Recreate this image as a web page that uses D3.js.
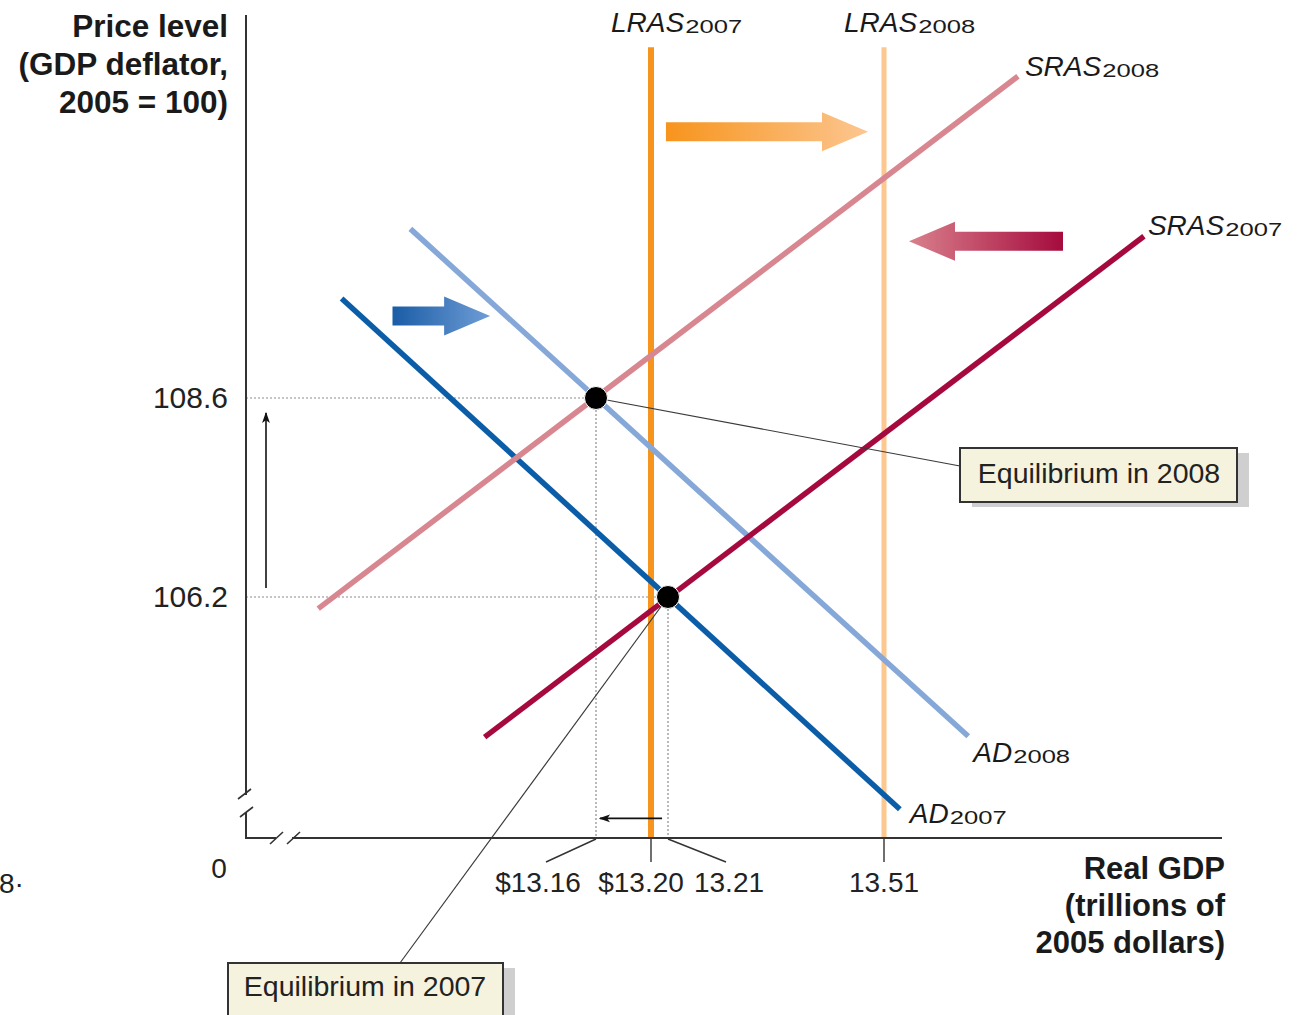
<!DOCTYPE html>
<html><head><meta charset="utf-8">
<script src="https://cdn.jsdelivr.net/npm/d3@7"></script>
<style>body{margin:0;background:#fff;overflow:hidden}svg{display:block;font-family:"Liberation Sans",Arial,Helvetica,sans-serif}</style>
</head><body><svg id="c" width="1301" height="1015"></svg>
<script>
// ---------------- data ----------------
const xTickValues = [13.16, 13.20, 13.21, 13.51];
const xTickLabels = ["$13.16", "$13.20", "13.21", "13.51"];
const yTickValues = [108.6, 106.2];
const yTickLabels = ["108.6", "106.2"];
const curveNames = ["AD", "AD", "SRAS", "SRAS"];
const curveYears = ["2007", "2008", "2007", "2008"];
const curveGDP = [[12.975, 13.532], [13.025, 13.627], [13.079, 13.871], [12.958, 13.696]];
const curvePrice = [[109.80, 103.64], [110.64, 104.52], [104.51, 110.55], [106.06, 112.48]];
const lrasYears = ["2007", "2008"];
const lrasGDP = [13.20, 13.51];
const lrasTopPrice = 112.83;
const eqYears = ["2007", "2008"];
const eqGDP = [13.21, 13.16];
const eqPrice = [106.2, 108.6];
const shiftFromGDP = [13.012, 13.2088, 13.7586];   // AD, LRAS, SRAS shifts
const shiftToGDP = [13.083, 13.4878, 13.5447];
const shiftPrice = [109.59, 111.81, 110.49];
const priceArrowGDP = 12.92, priceArrowFrom = 106.31, priceArrowTo = 108.42;
const gdpArrowPrice = 103.53, gdpArrowFrom = 13.2065, gdpArrowTo = 13.1629;
const priceMin = 103.29, priceMax = 113.22;

// ---------------- styles ----------------
const curveColors = ["#0B5DA8", "#86A8D8", "#A6093D", "#D88690"];
const lrasColors = ["#F7941D", "#FDC88F"];
const lrasWidths = [6, 5];
const shiftColors = [["#1A5CA6", "#6F9DD6"], ["#F7941D", "#FCC690"], ["#A50B3E", "#D9808C"]];

const svg = d3.select("#c");
const axisX = 246, axisY = 838, axisRight = 1222;

// piecewise-linear x scale (textbook axis not drawn to scale)
const x = d3.scaleLinear().domain(xTickValues).range([596, 651, 668, 884]);
const y = d3.scaleLinear().domain([106.2, 108.6]).range([597, 398]);

const defs = svg.append("defs");
defs.append("marker").attr("id", "ah").attr("viewBox", "0 0 10 10").attr("refX", 9).attr("refY", 5)
  .attr("markerWidth", 7).attr("markerHeight", 7).attr("orient", "auto-start-reverse")
  .append("path").attr("d", "M0,1.5L10,5L0,8.5L2.5,5Z").attr("fill", "#111");

// ---------------- dotted guide lines ----------------
const guides = svg.append("g").attr("stroke", "#8c8c8c").attr("stroke-width", 1.2).attr("stroke-dasharray", "2,2").attr("fill", "none");
eqGDP.forEach((g, i) => {
  guides.append("line").attr("x1", axisX).attr("x2", x(g)).attr("y1", y(eqPrice[i])).attr("y2", y(eqPrice[i]));
  guides.append("line").attr("x1", x(g)).attr("x2", x(g)).attr("y1", y(eqPrice[i])).attr("y2", y(priceMin));
});

// ---------------- LRAS ----------------
lrasGDP.forEach((g, i) => {
  svg.append("line").attr("x1", x(g)).attr("x2", x(g)).attr("y1", y(lrasTopPrice)).attr("y2", y(priceMin))
    .attr("stroke", lrasColors[i]).attr("stroke-width", lrasWidths[i]);
});

// ---------------- curves ----------------
const lineGen = d3.line().x(d => x(d[0])).y(d => y(d[1]));
curveGDP.forEach((g, i) => {
  svg.append("path").attr("d", lineGen(d3.zip(g, curvePrice[i])))
    .attr("stroke", curveColors[i]).attr("stroke-width", 5.5).attr("fill", "none");
});

// ---------------- shift arrows ----------------
function blockArrow(x0, x1, yc) {
  const dir = Math.sign(x1 - x0), hl = 46, sh = 9.5, hh = 19.5, xb = x1 - dir * hl;
  return `M${x0},${yc - sh}L${xb},${yc - sh}L${xb},${yc - hh}L${x1},${yc}L${xb},${yc + hh}L${xb},${yc + sh}L${x0},${yc + sh}Z`;
}
shiftFromGDP.forEach((g, i) => {
  const x0 = x(g), x1 = x(shiftToGDP[i]), yc = y(shiftPrice[i]);
  const gr = defs.append("linearGradient").attr("id", "sg" + i).attr("gradientUnits", "userSpaceOnUse")
    .attr("x1", x0).attr("x2", x1).attr("y1", 0).attr("y2", 0);
  gr.append("stop").attr("offset", "0").attr("stop-color", shiftColors[i][0]);
  gr.append("stop").attr("offset", "1").attr("stop-color", shiftColors[i][1]);
  svg.append("path").attr("d", blockArrow(x0, x1, yc)).attr("fill", `url(#sg${i})`);
});

// ---------------- axes ----------------
const ax = svg.append("g").attr("stroke", "#333").attr("stroke-width", 2).attr("fill", "none");
ax.append("line").attr("x1", axisX).attr("x2", axisX).attr("y1", y(priceMax)).attr("y2", 795);
ax.append("path").attr("d", `M${axisX},812L${axisX},${axisY}L276,${axisY}`);
ax.append("line").attr("x1", 292).attr("x2", axisRight).attr("y1", axisY).attr("y2", axisY);
// break marks
ax.append("path").attr("stroke-width", 1.6).attr("d",
  "M238,799L251,789M240,817L253,807M270,844L283,832M287,844L300,832");

// x ticks / leaders
const tickLen = 24;
const leaderDx = [-50, 0, 58, 0];
xTickValues.forEach((v, i) => {
  ax.append("line").attr("stroke-width", 1.4).attr("x1", x(v)).attr("y1", axisY + 1)
    .attr("x2", x(v) + leaderDx[i]).attr("y2", axisY + tickLen);
});
const labelDx = [-58, -10, 61, 0];
svg.append("g").selectAll("text").data(xTickLabels).join("text")
  .attr("x", (d, i) => x(xTickValues[i]) + labelDx[i]).attr("y", 892)
  .attr("text-anchor", "middle").attr("font-size", 28).attr("fill", "#222").text(d => d);

// y ticks via d3 axis
const yAxis = d3.axisLeft(y).tickValues(yTickValues).tickFormat((d, i) => yTickLabels[i]).tickSize(0).tickPadding(0);
const yg = svg.append("g").attr("transform", "translate(228,0)").call(yAxis);
yg.select(".domain").remove();
yg.selectAll("text").attr("font-size", 30).attr("fill", "#222").attr("font-family", "Liberation Sans, Arial, sans-serif");

svg.append("text").attr("x", 219).attr("y", 878).attr("text-anchor", "middle").attr("font-size", 28).attr("fill", "#222").text("0");

// axis titles
const yTitle = ["Price level", "(GDP deflator,", "2005 = 100)"];
svg.append("g").selectAll("text").data(yTitle).join("text").attr("x", 228).attr("y", (d, i) => 37 + i * 38)
  .attr("text-anchor", "end").attr("font-weight", "bold").attr("font-size", 31.5).attr("fill", "#1a1a1a").text(d => d);
const xTitle = ["Real GDP", "(trillions of", "2005 dollars)"];
svg.append("g").selectAll("text").data(xTitle).join("text").attr("x", 1225).attr("y", (d, i) => 879 + i * 37)
  .attr("text-anchor", "end").attr("font-weight", "bold").attr("font-size", 31).attr("fill", "#1a1a1a").text(d => d);

// small movement arrows
svg.append("line").attr("x1", x(priceArrowGDP)).attr("x2", x(priceArrowGDP))
  .attr("y1", y(priceArrowFrom)).attr("y2", y(priceArrowTo)).attr("stroke", "#111").attr("stroke-width", 1.6).attr("marker-end", "url(#ah)");
svg.append("line").attr("x1", x(gdpArrowFrom)).attr("x2", x(gdpArrowTo))
  .attr("y1", y(gdpArrowPrice)).attr("y2", y(gdpArrowPrice)).attr("stroke", "#111").attr("stroke-width", 1.6).attr("marker-end", "url(#ah)");

// ---------------- curve labels ----------------
function subLabel(px, py, main, sub) {
  const t = svg.append("text").attr("x", px).attr("y", py).attr("font-size", 28).attr("font-style", "italic").attr("fill", "#1a1a1a").text(main);
  const w = t.node().getComputedTextLength();
  svg.append("text").attr("x", px + w + 1).attr("y", py + 1).attr("font-size", 19).attr("fill", "#1a1a1a")
    .attr("textLength", 57).attr("lengthAdjust", "spacingAndGlyphs").text(sub);
}
const curveLabelOff = [[10, 14], [5, 26], [4, -1], [7, 0]];
curveGDP.forEach((g, i) => {
  subLabel(x(g[1]) + curveLabelOff[i][0], y(curvePrice[i][1]) + curveLabelOff[i][1], curveNames[i], curveYears[i]);
});
lrasGDP.forEach((g, i) => subLabel(x(g) - 40, 32, "LRAS", lrasYears[i]));

// ---------------- equilibrium callouts ----------------
const boxes = [{x: 228, y: 963, w: 275, h: 56, tx: 365, ty: 996}, {x: 960, y: 448, w: 277, h: 54, tx: 1099, ty: 483}];
const leaderEnd = [[400, 963], [960, 466]];
eqGDP.forEach((g, i) => {
  svg.append("line").attr("x1", x(g)).attr("y1", y(eqPrice[i])).attr("x2", leaderEnd[i][0]).attr("y2", leaderEnd[i][1])
    .attr("stroke", "#3a3a3a").attr("stroke-width", 1.2);
});
boxes.forEach((b, i) => {
  svg.append("rect").attr("x", b.x + 12).attr("y", b.y + 5).attr("width", b.w).attr("height", b.h).attr("fill", "#cfcfcf");
  svg.append("rect").attr("x", b.x).attr("y", b.y).attr("width", b.w).attr("height", b.h)
    .attr("fill", "#F5F2DE").attr("stroke", "#333").attr("stroke-width", 2);
  svg.append("text").attr("x", b.tx).attr("y", b.ty).attr("text-anchor", "middle").attr("font-size", 28.5)
    .attr("fill", "#222").text("Equilibrium in " + eqYears[i]);
});

// equilibrium dots
svg.append("g").selectAll("circle").data(eqGDP).join("circle")
  .attr("cx", d => x(d)).attr("cy", (d, i) => y(eqPrice[i])).attr("r", 11.5)
  .attr("fill", "#000").attr("stroke", "#fff").attr("stroke-width", 1);

// stray margin text from the source page
svg.append("text").attr("x", -1).attr("y", 893).attr("font-size", 28).attr("fill", "#222").text("8·");
</script></body></html>
